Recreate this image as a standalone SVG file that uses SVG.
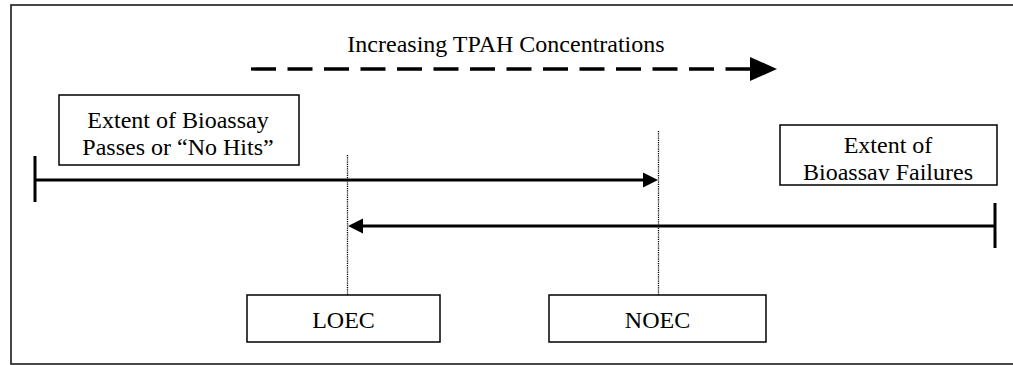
<svg xmlns="http://www.w3.org/2000/svg" width="1013" height="365" viewBox="0 0 1013 365">
  <style>
    .frame { fill: none; stroke: #1a1a1a; stroke-width: 1.6; }
    .box { fill: #fff; stroke: #000; stroke-width: 1.5; }
    .lbl { font-family: "Liberation Serif", "Times New Roman", serif; font-size: 24px; fill: #000; text-anchor: middle; }
    .range { stroke: #000; stroke-width: 3; fill: none; }
    .dot { stroke: #000; stroke-width: 1.3; stroke-dasharray: 1.2 1; fill: none; }
    .dash { stroke: #000; stroke-width: 3.3; stroke-dasharray: 25 11.5; fill: none; }
  </style>
  <defs>
    <clipPath id="clipLeft"><rect x="59" y="95" width="240" height="61"/></clipPath>
    <clipPath id="clipRight"><rect x="780" y="125" width="217" height="55.5"/></clipPath>
  </defs>
  <rect width="1013" height="365" fill="#fff"/>
  <rect class="frame" x="11" y="5" width="1010" height="359"/>

  <g id="title">
    <text class="lbl" x="506" y="52">Increasing TPAH Concentrations</text>
  </g>

  <g id="connectors">
    <line class="dash" x1="251" y1="69" x2="752" y2="69"/>
    <polygon points="750,57 777,69 750,81" fill="#000"/>
    <line class="dot" x1="658.5" y1="131" x2="658.5" y2="295"/>
    <line class="dot" x1="347.5" y1="155" x2="347.5" y2="295"/>
    <line class="range" x1="35" y1="156" x2="35" y2="202"/>
    <line class="range" x1="35" y1="180" x2="645" y2="180"/>
    <polygon points="643,172.5 658,180 643,187.5" fill="#000"/>
    <line class="range" x1="995" y1="203" x2="995" y2="248"/>
    <line class="range" x1="360" y1="226" x2="995" y2="226"/>
    <polygon points="363,218.5 348,226 363,233.5" fill="#000"/>
  </g>

  <g id="passes">
    <rect class="box" x="59" y="95" width="240" height="70"/>
    <g clip-path="url(#clipLeft)">
      <text class="lbl" x="178" y="128">Extent of Bioassay</text>
      <text class="lbl" x="178" y="155">Passes or “No Hits”</text>
    </g>
  </g>

  <g id="failures">
    <rect class="box" x="780" y="125" width="217" height="60"/>
    <g clip-path="url(#clipRight)">
      <text class="lbl" x="888" y="153">Extent of</text>
      <text class="lbl" x="888" y="180">Bioassay Failures</text>
    </g>
  </g>

  <g id="loec">
    <rect class="box" x="247" y="295" width="193" height="47"/>
    <text class="lbl" x="343.5" y="328">LOEC</text>
  </g>

  <g id="noec">
    <rect class="box" x="549" y="295" width="217" height="47"/>
    <text class="lbl" x="657.5" y="328">NOEC</text>
  </g>
</svg>
